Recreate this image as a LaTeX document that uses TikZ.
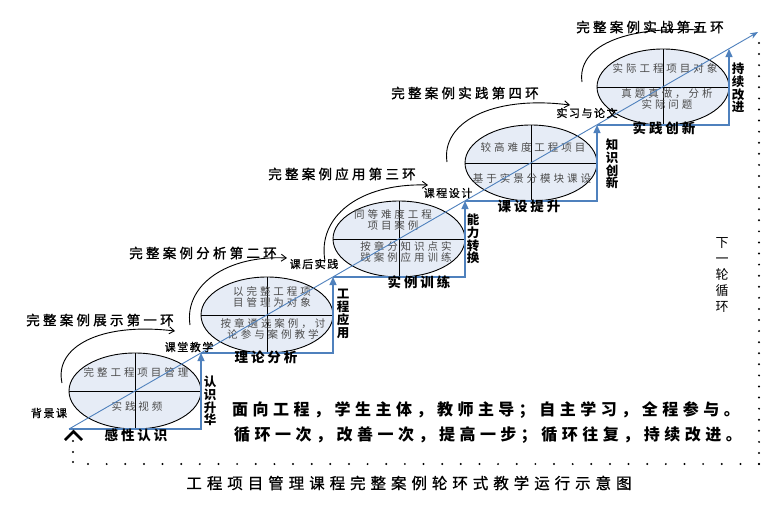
\documentclass[tikz,border=0pt]{standalone}
\usepackage{fontspec}
\setmainfont{Noto Sans CJK SC}
\usetikzlibrary{arrows.meta,shapes.geometric,calc}
\definecolor{ellfill}{RGB}{230,236,246}
\definecolor{stepblue}{RGB}{79,129,189}
\definecolor{intext}{RGB}{75,75,75}
\tikzset{
  ring/.style={ellipse, draw=black, line width=0.9pt, fill=ellfill, minimum width=132pt, minimum height=76pt, inner sep=0pt, outer sep=0pt},
  divider/.style={black, line width=1pt},
  stepline/.style={stepblue, line width=1.3pt, -{Triangle[length=8pt,width=7pt]}},
  diag/.style={stepblue, line width=0.9pt, -{Stealth[length=8pt,width=6pt]}},
  arcarrow/.style={black, line width=0.9pt, -{Straight Barb[length=5pt,width=7pt]}},
  intxt/.style={text=intext, font=\fontsize{10.5}{11.5}\selectfont\addfontfeatures{LetterSpace=28}, inner sep=0pt, align=center},
  stagelbl/.style={font=\fontsize{13.5}{15}\selectfont\addfontfeatures{LetterSpace=24,FakeBold=1.2}, inner sep=0pt},
  arclbl/.style={font=\fontsize{11}{13}\selectfont\addfontfeatures{LetterSpace=14,FakeBold=1}, inner sep=0pt},
  steplbl/.style={font=\bfseries\fontsize{13.5}{15}\selectfont\addfontfeatures{LetterSpace=22}, inner sep=0pt},
  vlbl/.style={font=\bfseries\fontsize{12.5}{12.8}\selectfont, inner sep=0pt, align=center},
  mainlbl/.style={font=\bfseries\fontsize{16}{18}\selectfont\addfontfeatures{LetterSpace=28}, inner sep=0pt},
  titlelbl/.style={font=\fontsize{15.5}{18}\selectfont\addfontfeatures{LetterSpace=32,FakeBold=0.8}, inner sep=0pt},
  dotmark/.style={fill=black, draw=none}
}
\begin{document}
\begin{tikzpicture}[x=1pt,y=-1pt]
\useasboundingbox (0,0) rectangle (783,504);
\fill[white] (0,0) rectangle (783,504);

% rings
\node[ring] (e1) at (135,391) {};
\node[ring] (e2) at (267,315) {};
\node[ring] (e3) at (399,239) {};
\node[ring] (e4) at (531,163) {};
\node[ring] (e5) at (663,87) {};
\foreach \n in {e1,e2,e3,e4,e5}{
  \draw[divider] (\n.north) -- (\n.south);
  \draw[divider] (\n.west) -- (\n.east);
}

% ring texts
\node[intxt] (t1a) at (136,372) {完整工程项目管理};
\node[intxt] (t1b) at (137,406) {实践视频};
\node[intxt] (t2a) at (272,297) {以完整工程项\\目管理为对象};
\node[intxt] (t2b) at (273,329) {按章遴选案例，讨\\论参与案例教学};
\node[intxt] (t3a) at (393,220) {同等难度工程\\项目案例};
\node[intxt] (t3b) at (406,252) {按章分知识点实\\践案例应用训练};
\node[intxt] (t4a) at (533,147) {较高难度工程项目};
\node[intxt] (t4b) at (532,178) {基于实景分模块课设};
\node[intxt] (t5a) at (665,68) {实际工程项目对象};
\node[intxt] (t5b) at (667,99) {真题真做，分析\\实际问题};

% curved arrows around rings
\draw[arcarrow] ($(e1)+(-73,-8)$) .. controls ($(e1)+(-81,-44)$) and ($(e1)+(-35,-69)$) .. ($(e1)+(40,-60)$);
\draw[arcarrow] ($(e2)+(-77,10)$) .. controls ($(e2)+(-83,-30)$) and ($(e2)+(-40,-60)$) .. ($(e2)+(20,-57)$);
\draw[arcarrow] ($(e3)+(-74,22)$) .. controls ($(e3)+(-82,-22)$) and ($(e3)+(-40,-56)$) .. ($(e3)+(29,-54)$);
\draw[arcarrow] ($(e4)+(-84,-1)$) .. controls ($(e4)+(-90,-40)$) and ($(e4)+(-40,-68)$) .. ($(e4)+(39,-58)$);
\draw[arcarrow] ($(e5)+(-81,-5)$) .. controls ($(e5)+(-86,-40)$) and ($(e5)+(-40,-61)$) .. ($(e5)+(37,-57)$);

% step lines
\draw[stepline] (e1.west |- e1.south) -- (e1.east |- e1.south) -- (e1.east |- e1.north);
\draw[stepline] (e2.west |- e2.south) -- (e2.east |- e2.south) -- (e2.east |- e2.north);
\draw[stepline] (e3.west |- e3.south) -- (e3.east |- e3.south) -- (e3.east |- e3.north);
\draw[stepline] (e4.west |- e4.south) -- (e4.east |- e4.south) -- (e4.east |- e4.north);
\draw[stepline] (e5.west |- e5.south) -- (e5.east |- e5.south) -- (e5.east |- e5.north);

% diagonal
\coordinate (dend) at (758,32);
\draw[diag] (e1.west |- e1.south) -- (dend);

% stage labels
\node[stagelbl] (s1) at (100,320) {完整案例展示第一环};
\node[stagelbl] (s2) at (203,253) {完整案例分析第二环};
\node[stagelbl] (s3) at (342,174) {完整案例应用第三环};
\node[stagelbl] (s4) at (465,93) {完整案例实践第四环};
\node[stagelbl] (s5) at (650,27) {完整案例实战第五环};

% arc labels
\node[arclbl] (a1) at (189,347) {课堂教学};
\node[arclbl] (a2) at (314,264) {课后实践};
\node[arclbl] (a3) at (448,193) {课程设计};
\node[arclbl] (a4) at (587,113) {实习与论文};
\node[arclbl] (bg) at (49,413) {背景课};

% step labels
\node[steplbl] (b1) at (136,435) {感性认识};
\node[steplbl] (b2) at (266,357) {理论分析};
\node[steplbl] (b3) at (419,282) {实例训练};
\node[steplbl] (b4) at (529,206) {课设提升};
\node[steplbl] (b5) at (664,128) {实践创新};

% vertical labels
\node[vlbl] (v1) at (210,401) {认\\识\\升\\华};
\node[vlbl] (v2) at (343,314) {工\\程\\应\\用};
\node[vlbl] (v3) at (473,239) {能\\力\\转\\换};
\node[vlbl] (v4) at (612,164) {知\\识\\创\\新};
\node[vlbl] (v5) at (738,88) {持\\续\\改\\进};
\node[font=\fontsize{13}{16}\selectfont, inner sep=0pt, align=center] (nx) at (722,275) {下\\一\\轮\\循\\环};

% main text
\node[mainlbl] (m1) at (486,410) {面向工程，学生主体，教师主导；自主学习，全程参与。};
\node[mainlbl] (m2) at (488,435) {循环一次，改善一次，提高一步；循环往复，持续改进。};
\node[titlelbl] (ttl) at (409,483) {工程项目管理课程完整案例轮环式教学运行示意图};

% start marker
\draw[black, line width=2.6pt, line cap=butt, line join=miter] (65,440) -- (73.5,431.5) -- (82,440);

% dotted frame
\foreach \k in {0,...,36}{ \fill[dotmark] ({88+\k*18.64},464) circle (1.1); }
\foreach \k in {0,...,38}{ \fill[dotmark] (759,{43+\k*11.08}) circle (1.1); }
\foreach \yy in {441,452}{ \fill[dotmark] (73,\yy) circle (1.1); }
\fill[dotmark] (73,462) circle (1.1);
\end{tikzpicture}
\end{document}
